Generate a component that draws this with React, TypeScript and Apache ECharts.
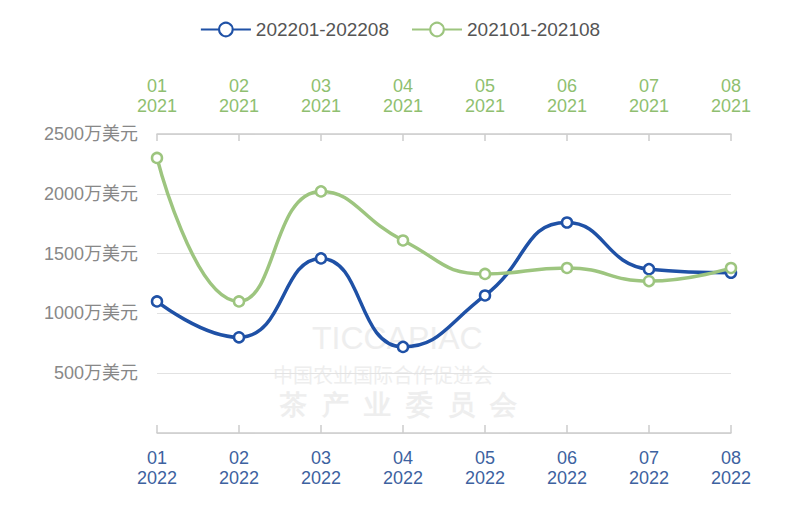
import React, { useEffect, useRef } from "react";
import * as echarts from "echarts";

const months = ["01", "02", "03", "04", "05", "06", "07", "08"];
const yearBottom = "2022";
const yearTop = "2021";
const series2022Name = "202201-202208";
const series2021Name = "202101-202108";
const values2022 = [1100, 800, 1460, 720, 1150, 1760, 1370, 1340];
const values2021 = [2300, 1100, 2020, 1610, 1330, 1380, 1270, 1380];
const yTicks = [0, 500, 1000, 1500, 2000, 2500];
const yUnit = "万美元";
const watermarkEn = "TICCAPIAC";
const watermarkCn1 = "中国农业国际合作促进会";
const watermarkCn2 = ["茶", "产", "业", "委", "员", "会"];

const BLUE = "#1f51a6";
const GREEN = "#9dc57f";
const WM = "#eeeeee";

export default function App() {
  const ref = useRef<HTMLDivElement>(null);
  useEffect(() => {
    document.body.style.margin = "0";
    if (!ref.current) return;
    const chart = echarts.init(ref.current, null, { renderer: "svg" });
    const font = "'Liberation Sans', 'Noto Sans CJK SC', sans-serif";
    chart.setOption({
      animation: false,
      textStyle: { fontFamily: font },
      legend: {
        top: 15,
        left: "center",
        itemWidth: 50,
        itemHeight: 17,
        itemGap: 22,
        textStyle: { color: "#555", fontSize: 19, fontFamily: font },
        data: [series2022Name, series2021Name],
      },
      graphic: [
        {
          type: "text",
          left: 312,
          top: 322,
          silent: true,
          z: -1,
          style: { text: watermarkEn, fill: WM, fontSize: 32, fontFamily: font },
        },
        {
          type: "text",
          left: 273,
          top: 364,
          silent: true,
          z: -1,
          style: { text: watermarkCn1, fill: WM, fontSize: 20, fontFamily: "'Noto Sans CJK SC'" },
        },
        ...watermarkCn2.map((ch, i) => ({
          type: "text",
          left: 280 + i * 42,
          top: 391,
          silent: true,
          z: -1,
          style: { text: ch, fill: WM, fontSize: 27, fontFamily: "serif", fontWeight: "bold" },
        })),
      ],
      grid: { left: 157, right: 69, top: 134, bottom: 72, containLabel: false },
      xAxis: [
        {
          type: "category",
          position: "bottom",
          boundaryGap: false,
          data: months.map((m) => m + "\n" + yearBottom),
          axisLine: { lineStyle: { color: "#cccccc", width: 1.5 } },
          axisTick: { inside: true, length: 8, lineStyle: { color: "#cccccc", width: 1.5 } },
          axisLabel: { color: "#3d62a0", fontSize: 18, lineHeight: 20, margin: 15 },
        },
        {
          type: "category",
          position: "top",
          boundaryGap: false,
          data: months.map((m) => m + "\n" + yearTop),
          axisLine: { lineStyle: { color: "#cccccc", width: 1.5 } },
          axisTick: { inside: true, length: 7, lineStyle: { color: "#cccccc", width: 1.5 } },
          axisLabel: { color: "#8fbf70", fontSize: 18, lineHeight: 20, margin: 18 },
        },
      ],
      yAxis: {
        type: "value",
        min: yTicks[0],
        max: yTicks[yTicks.length - 1],
        interval: yTicks[1] - yTicks[0],
        axisLine: { show: false },
        axisTick: { show: false },
        splitLine: { lineStyle: { color: "#e2e2e2", width: 1 } },
        axisLabel: {
          color: "#888",
          fontSize: 18,
          margin: 19,
          formatter: (v: number) => (v === 0 ? "" : v + yUnit),
        },
      },
      series: [
        {
          name: series2022Name,
          type: "line",
          xAxisIndex: 0,
          data: values2022,
          smooth: 0.5,
          symbol: "circle",
          symbolSize: 10,
          lineStyle: { color: BLUE, width: 3.5 },
          itemStyle: { color: "#fff", borderColor: BLUE, borderWidth: 2.5 },
          z: 3,
        },
        {
          name: series2021Name,
          type: "line",
          xAxisIndex: 1,
          data: values2021,
          smooth: 0.5,
          symbol: "circle",
          symbolSize: 10,
          lineStyle: { color: GREEN, width: 3.5 },
          itemStyle: { color: "#fff", borderColor: GREEN, borderWidth: 2.5 },
          z: 4,
        },
      ],
    });
    return () => chart.dispose();
  }, []);
  return <div ref={ref} style={{ width: 800, height: 505 }} />;
}
